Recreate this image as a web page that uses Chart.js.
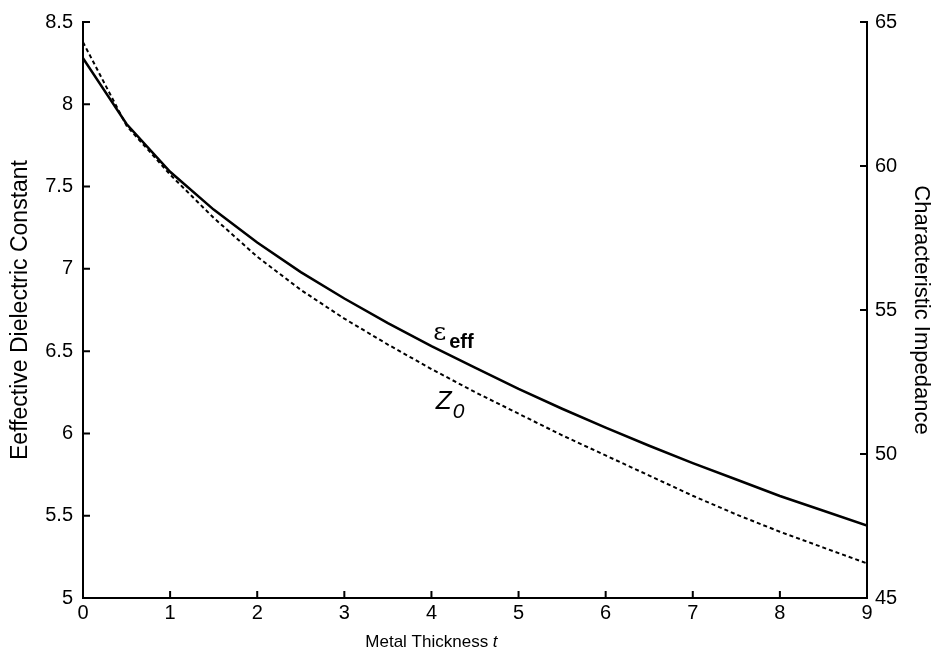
<!DOCTYPE html>
<html>
<head>
<meta charset="utf-8">
<script src="https://cdn.jsdelivr.net/npm/chart.js@4.4.0/dist/chart.umd.min.js"></script>
<style>
  html, body { margin: 0; padding: 0; background: #fff; }
</style>
</head>
<body>
<canvas id="mainChart" width="935" height="661"></canvas>
<script>
// dati
const thickness = [0, 0.5, 1, 1.5, 2, 2.5, 3, 3.5, 4, 4.5, 5, 5.5, 6, 6.5, 7, 7.5, 8, 8.5, 9]
const epsEff = [8.28, 7.88, 7.59, 7.36, 7.16, 6.98, 6.82, 6.67, 6.53, 6.40, 6.27, 6.15, 6.035, 5.925, 5.82, 5.72, 5.62, 5.53, 5.44]
const z0 = [64.3, 61.4, 59.7, 58.2, 56.85, 55.7, 54.7, 53.8, 52.95, 52.15, 51.4, 50.65, 49.95, 49.25, 48.55, 47.9, 47.3, 46.75, 46.2]

const fontFam = "'Liberation Sans', Arial, sans-serif"
const tickFont = { family: fontFam, size: 20 }

// tacche verso l'interno + etichette delle curve + titolo asse x con t corsivo
const extras = {
  id: 'extras',
  afterDraw(chart) {
    const { ctx, chartArea: a, scales } = chart
    const { x, y, y1 } = scales
    ctx.save()
    ctx.strokeStyle = '#000'
    ctx.lineWidth = 2
    ctx.beginPath()
    x.ticks.forEach(t => {
      const px = x.getPixelForValue(t.value)
      ctx.moveTo(px, a.bottom)
      ctx.lineTo(px, a.bottom - 7)
    })
    y.ticks.forEach(t => {
      const py = y.getPixelForValue(t.value)
      ctx.moveTo(a.left, py)
      ctx.lineTo(a.left + 7, py)
    })
    y1.ticks.forEach(t => {
      const py = y1.getPixelForValue(t.value)
      ctx.moveTo(a.right, py)
      ctx.lineTo(a.right - 7, py)
    })
    ctx.stroke()

    ctx.fillStyle = '#000'
    ctx.textBaseline = 'alphabetic'
    ctx.textAlign = 'left'
    // epsilon_eff
    let lx = x.getPixelForValue(4.02)
    let ly = y.getPixelForValue(6.57)
    ctx.font = "25px 'DejaVu Serif', serif"
    ctx.fillText('\u03b5', lx, ly)
    ctx.font = "bold 20px " + fontFam
    ctx.fillText('eff', lx + 16, ly + 8)
    // Z_0
    lx = x.getPixelForValue(4.05)
    ly = y.getPixelForValue(6.15)
    ctx.font = "italic 26px " + fontFam
    ctx.fillText('Z', lx, ly)
    ctx.font = "italic 21px " + fontFam
    ctx.fillText('0', lx + 17, ly + 9)

    // titolo asse x (centrato sotto la tacca 4 come nell'originale)
    const part1 = 'Metal Thickness '
    ctx.font = "17px " + fontFam
    const w1 = ctx.measureText(part1).width
    ctx.font = "italic 17px " + fontFam
    const w2 = ctx.measureText('t').width
    const cx = x.getPixelForValue(4.0)
    const sx = cx - (w1 + w2) / 2
    ctx.font = "17px " + fontFam
    ctx.fillText(part1, sx, 647)
    ctx.font = "italic 17px " + fontFam
    ctx.fillText('t', sx + w1, 647)
    ctx.restore()
  }
}

const chart = document.getElementById('mainChart')

new Chart(chart, {
  type: 'line',
  data: {
    labels: thickness,
    datasets: [
      {
        label: 'eps_eff',
        data: thickness.map((t, i) => ({ x: t, y: epsEff[i] })),
        yAxisID: 'y',
        borderColor: '#000',
        borderWidth: 2.5,
        pointRadius: 0,
        tension: 0,
      },
      {
        label: 'Z0',
        data: thickness.map((t, i) => ({ x: t, y: z0[i] })),
        yAxisID: 'y1',
        borderColor: '#000',
        borderWidth: 2,
        borderDash: [4, 3],
        pointRadius: 0,
        tension: 0,
      },
    ],
  },
  options: {
    responsive: false,
    animation: false,
    layout: { padding: { top: 22, left: 0, right: 0, bottom: 0 } },
    plugins: {
      legend: { display: false },
      tooltip: { enabled: false },
    },
    scales: {
      x: {
        type: 'linear',
        min: 0,
        max: 9,
        afterFit: s => { s.height = 63 },
        grid: { drawOnChartArea: false, drawTicks: false },
        border: { color: '#000', width: 2 },
        ticks: { stepSize: 1, color: '#000', font: tickFont, padding: 3, maxRotation: 0 },
      },
      y: {
        position: 'left',
        min: 5,
        max: 8.5,
        afterFit: s => { s.width = 83 },
        grid: { drawOnChartArea: false, drawTicks: false },
        border: { color: '#000', width: 2 },
        ticks: { stepSize: 0.5, color: '#000', font: tickFont, padding: 10, callback: v => `${v}` },
        title: { display: true, text: 'Eeffective Dielectric Constant', color: '#000', font: { family: fontFam, size: 23 }, padding: { top: 7, bottom: 0 } },
      },
      y1: {
        position: 'right',
        min: 45,
        max: 65,
        afterFit: s => { s.width = 68 },
        grid: { drawOnChartArea: false, drawTicks: false },
        border: { color: '#000', width: 2 },
        ticks: { stepSize: 5, color: '#000', font: tickFont, padding: 8 },
        title: { display: true, text: 'Characteristic Impedance', color: '#000', font: { family: fontFam, size: 22 }, padding: { top: 1, bottom: 0 } },
      },
    },
  },
  plugins: [extras],
})
</script>
</body>
</html>
